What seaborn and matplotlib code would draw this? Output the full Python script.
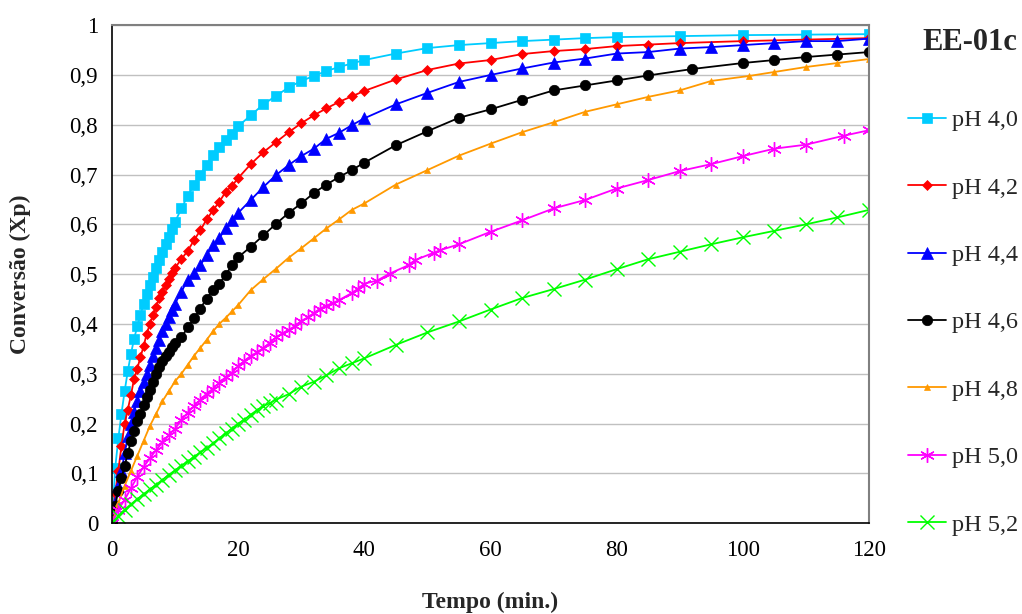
import numpy as np
import pandas as pd
import seaborn as sns
import matplotlib
matplotlib.use("Agg")
import matplotlib.pyplot as plt

# Values (Conversão vs Tempo)
labels = ["pH 4,0", "pH 4,2", "pH 4,4", "pH 4,6", "pH 4,8", "pH 5,0", "pH 5,2"]

t_40 = [0, 0.5, 1, 1.5, 2, 2.5, 3, 3.5, 4, 4.5, 5, 5.5, 6, 6.5, 7, 7.5, 8, 8.5, 9, 9.5, 10,
        11, 12, 13, 14, 15, 16, 17, 18, 19, 20,
        22, 24, 26, 28, 30, 32, 34, 36, 38, 40,
        45, 50, 55, 60, 65, 70, 75, 80, 90, 100, 110, 120]
x_40 = [0, 0.11, 0.17, 0.22, 0.265, 0.305, 0.34, 0.37, 0.395, 0.418, 0.44, 0.46, 0.478, 0.495, 0.512,
        0.528, 0.545, 0.56, 0.575, 0.59, 0.605,
        0.632, 0.657, 0.68, 0.70, 0.72, 0.739, 0.755, 0.769, 0.782, 0.797,
        0.819, 0.841, 0.858, 0.875, 0.888, 0.898, 0.908, 0.916, 0.923, 0.93,
        0.943, 0.954, 0.96, 0.964, 0.968, 0.971, 0.974, 0.976, 0.978, 0.98, 0.981, 0.982]

t_42 = [0, 0.5, 1, 1.5, 2, 2.5, 3, 3.5, 4, 4.5, 5, 5.5, 6, 6.5, 7, 7.5, 8, 8.5, 9, 9.5, 10,
        11, 12, 13, 14, 15, 16, 17, 18, 19, 20,
        22, 24, 26, 28, 30, 32, 34, 36, 38, 40,
        45, 50, 55, 60, 65, 70, 75, 80, 85, 90, 100, 110, 120]
x_42 = [0, 0.06, 0.105, 0.155, 0.2, 0.228, 0.257, 0.29, 0.31, 0.333, 0.355, 0.38, 0.4, 0.418, 0.435,
        0.452, 0.465, 0.478, 0.49, 0.502, 0.513,
        0.53, 0.547, 0.568, 0.588, 0.61, 0.628, 0.645, 0.665, 0.677, 0.693,
        0.721, 0.745, 0.765, 0.785, 0.803, 0.819, 0.833, 0.846, 0.857, 0.868,
        0.891, 0.91, 0.923, 0.93, 0.942, 0.948, 0.952, 0.958, 0.961, 0.964, 0.968, 0.971, 0.974]

t_44 = [0, 0.5, 1, 1.5, 2, 2.5, 3, 3.5, 4, 4.5, 5, 5.5, 6, 6.5, 7, 7.5, 8, 8.5, 9, 9.5, 10,
        11, 12, 13, 14, 15, 16, 17, 18, 19, 20,
        22, 24, 26, 28, 30, 32, 34, 36, 38, 40,
        45, 50, 55, 60, 65, 70, 75, 80, 85, 90, 95, 100, 105, 110, 115, 120]
x_44 = [0, 0.04, 0.075, 0.105, 0.14, 0.175, 0.2, 0.223, 0.245, 0.265, 0.283, 0.3, 0.318, 0.335, 0.352,
        0.368, 0.385, 0.4, 0.414, 0.428, 0.441,
        0.465, 0.488, 0.502, 0.518, 0.538, 0.558, 0.572, 0.592, 0.608, 0.623,
        0.649, 0.675, 0.699, 0.719, 0.737, 0.752, 0.772, 0.784, 0.799, 0.813,
        0.841, 0.864, 0.886, 0.9, 0.913, 0.925, 0.933, 0.943, 0.946, 0.953, 0.956, 0.96, 0.964, 0.968,
        0.968, 0.973]

t_46 = [0, 0.5, 1, 1.5, 2, 2.5, 3, 3.5, 4, 4.5, 5, 5.5, 6, 6.5, 7, 7.5, 8, 8.5, 9, 9.5, 10,
        11, 12, 13, 14, 15, 16, 17, 18, 19, 20,
        22, 24, 26, 28, 30, 32, 34, 36, 38, 40,
        45, 50, 55, 60, 65, 70, 75, 80, 85, 92, 100, 105, 110, 115, 120]
x_46 = [0, 0.035, 0.065, 0.09, 0.115, 0.14, 0.165, 0.185, 0.205, 0.22, 0.237, 0.254, 0.268, 0.284, 0.3,
        0.313, 0.325, 0.335, 0.344, 0.354, 0.362,
        0.373, 0.393, 0.411, 0.431, 0.451, 0.468, 0.481, 0.498, 0.518, 0.534,
        0.555, 0.578, 0.601, 0.623, 0.642, 0.663, 0.68, 0.695, 0.709, 0.724,
        0.759, 0.787, 0.814, 0.831, 0.85, 0.869, 0.879, 0.889, 0.899, 0.912, 0.924, 0.93, 0.936, 0.941,
        0.946]

t_48 = [0, 1, 2, 3, 4, 5, 6, 7, 8, 9, 10, 11, 12, 13, 14, 15, 16, 17, 18, 19, 20,
        22, 24, 26, 28, 30, 32, 34, 36, 38, 40,
        45, 50, 55, 60, 65, 70, 75, 80, 85, 90, 95, 101, 105, 110, 115, 120]
x_48 = [0, 0.04, 0.075, 0.105, 0.135, 0.165, 0.195, 0.22, 0.245, 0.265, 0.285, 0.3, 0.318, 0.336, 0.352,
        0.368, 0.385, 0.4, 0.412, 0.425, 0.438,
        0.468, 0.49, 0.511, 0.533, 0.552, 0.572, 0.592, 0.61, 0.629, 0.642,
        0.68, 0.709, 0.738, 0.762, 0.785, 0.805, 0.826, 0.841, 0.856, 0.869, 0.888,
        0.898, 0.906, 0.916, 0.924, 0.932]

t_50 = [0, 1, 2, 3, 4, 5, 6, 7, 8, 9, 10, 11, 12, 13, 14, 15, 16, 17, 18, 19, 20,
        21, 22, 23, 24, 25, 26, 27, 28, 29, 30, 31, 32, 33, 34, 35, 36,
        38, 39, 40, 42, 44, 47, 48, 51, 52, 55, 60, 65, 70, 75, 80, 85, 90, 95, 100, 105, 110, 116, 120]
x_50 = [0, 0.027, 0.047, 0.07, 0.093, 0.113, 0.13, 0.147, 0.162, 0.177, 0.19, 0.207, 0.222, 0.235,
        0.248, 0.26, 0.27, 0.282, 0.293, 0.302, 0.315,
        0.326, 0.336, 0.343, 0.352, 0.362, 0.373, 0.381, 0.388, 0.396, 0.406, 0.413, 0.422, 0.431,
        0.437, 0.442, 0.448,
        0.462, 0.471, 0.481, 0.487, 0.501, 0.518, 0.528, 0.543, 0.548, 0.56, 0.585, 0.608, 0.632,
        0.649, 0.672, 0.689, 0.707, 0.721, 0.737, 0.752, 0.76, 0.778, 0.789]

t_52 = [0, 1, 2, 3, 4, 5, 6, 7, 8, 9, 10, 11, 12, 13, 14, 15, 16, 17, 18, 19, 20,
        21, 22, 23, 24, 25, 26,
        28, 30, 32, 34, 36, 38, 40,
        45, 50, 55, 60, 65, 70, 75, 80, 85, 90, 95, 100, 105, 110, 115, 120]
x_52 = [0, 0.015, 0.027, 0.038, 0.048, 0.058, 0.068, 0.077, 0.087, 0.097, 0.106, 0.115, 0.124, 0.133,
        0.142, 0.151, 0.16, 0.17, 0.18, 0.19, 0.2,
        0.208, 0.218, 0.227, 0.235, 0.241, 0.248,
        0.259, 0.274, 0.284, 0.297, 0.311, 0.321, 0.331,
        0.358, 0.383, 0.405, 0.429, 0.452, 0.47, 0.489, 0.51, 0.53, 0.545, 0.56, 0.574, 0.587, 0.6,
        0.614, 0.629]

y_ticks = [0, 0.1, 0.2, 0.3, 0.4, 0.5, 0.6, 0.7, 0.8, 0.9, 1]
y_ticklabels = ["0", "0,1", "0,2", "0,3", "0,4", "0,5", "0,6", "0,7", "0,8", "0,9", "1"]
x_ticks = [0, 20, 40, 60, 80, 100, 120]

# series styling: (time, conversion, colour, marker, size, edge width)
series = [
    (t_40, x_40, "#00CCFF", "s", 7.5, 0.5),
    (t_42, x_42, "#FF0000", "D", 5.5, 0.5),
    (t_44, x_44, "#0000FF", "^", 8, 0.5),
    (t_46, x_46, "#000000", "o", 7.5, 0.5),
    (t_48, x_48, "#FF9900", "^", 5, 0.5),
    (t_50, x_50, "#FF00FF", (6, 2, 0), 10.5, 1.0),
    (t_52, x_52, "#00FF00", "x", 10, 1.0),
]

sns.set_style("white")
plt.rcParams["font.family"] = ["Liberation Serif", "DejaVu Serif"]

fig = plt.figure(figsize=(10.22, 6.14), dpi=100)
ax = fig.add_axes([0.1096, 0.148, 0.7407, 0.811])

for (t, x, color, marker, ms, mew), label in zip(series, labels):
    df = pd.DataFrame({"Tempo": t, "Conv": x})
    sns.lineplot(data=df, x="Tempo", y="Conv", ax=ax, color=color, marker=marker,
                 markersize=ms, markeredgecolor=color, markeredgewidth=mew,
                 linewidth=1.3, estimator=None, sort=False, label=label)

ax.set_xlim(0, 120)
ax.set_ylim(0, 1)
ax.set_xticks(x_ticks)
ax.set_yticks(y_ticks)
ax.set_yticklabels(y_ticklabels)
ax.tick_params(axis="both", direction="out", length=6, width=1, labelsize=16.5, colors="black")
ax.tick_params(axis="x", pad=6)
ax.tick_params(axis="y", pad=4)
ax.grid(axis="y", color="#C0C0C0", linewidth=1)
ax.set_axisbelow(True)
for side in ["top", "right"]:
    ax.spines[side].set_color("#808080")
    ax.spines[side].set_linewidth(1.5)
for side in ["left", "bottom"]:
    ax.spines[side].set_color("black")
    ax.spines[side].set_linewidth(1.2)

ax.set_xlabel("Tempo (min.)", fontsize=17, fontweight="bold", labelpad=22)
ax.set_ylabel("Conversão (Xp)", fontsize=17, fontweight="bold", labelpad=28)

handles, labs = ax.get_legend_handles_labels()
ax.get_legend().remove()
fig.legend(handles, labs, loc="upper left", bbox_to_anchor=(0.8673, 0.858), frameon=False,
           fontsize=17.5, labelspacing=1.87, handlelength=1.55, handletextpad=0.25,
           borderpad=0.4)

fig.text(0.949, 0.930, "EE-01c", fontsize=22, fontweight="bold", ha="center", va="center")

fig.savefig("out.png", dpi=100)
